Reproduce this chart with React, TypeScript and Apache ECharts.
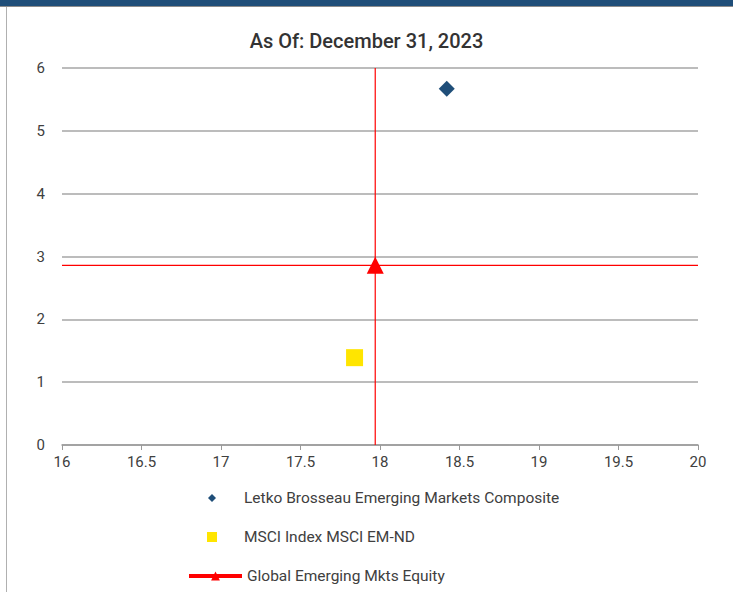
import React, { useEffect, useRef } from "react";
import * as echarts from "echarts";

const seriesNames = [
  "Letko Brosseau Emerging Markets Composite",
  "MSCI Index MSCI EM-ND",
  "Global Emerging Mkts Equity",
];
// [x, y] values
const letkoPoint = [18.42, 5.67];
const msciPoint = [17.84, 1.39];
const globalPoint = [17.97, 2.86];
const xTicks = { min: 16, max: 20, interval: 0.5 };
const yTicks = { min: 0, max: 6, interval: 1 };

const FONT = "Roboto";
const TXT = "#404040";
const RED = "#ff0000";

export default function App() {
  const ref = useRef<HTMLDivElement>(null);
  useEffect(() => {
    if (!ref.current) return;
    const chart = echarts.init(ref.current, null, { renderer: "svg" });
    const legendBase = {
      orient: "vertical",
      selectedMode: false,
      padding: 0,
      textStyle: { fontFamily: FONT, fontSize: 15.5, color: TXT },
    };
    const crossLine = (data: number[][]) => ({
      type: "line",
      symbol: "none",
      silent: true,
      lineStyle: { color: RED, width: 1.2 },
      data,
      z: 3,
    });
    chart.setOption({
      animation: false,
      backgroundColor: "#ffffff",
      title: {
        text: "As Of: December 31, 2023",
        left: "center",
        top: 26,
        textStyle: { fontFamily: FONT, fontSize: 20, fontWeight: 500, color: "#333333" },
      },
      graphic: [
        { type: "rect", shape: { x: 0, y: 0, width: 733, height: 6 }, style: { fill: "#1F4E79" } },
        { type: "rect", shape: { x: 0, y: 6, width: 733, height: 1 }, style: { fill: "#8c8c8c" } },
        { type: "rect", shape: { x: 6, y: 7, width: 1, height: 585 }, style: { fill: "#b0b0b0" } },
      ],
      grid: { left: 62, right: 35, top: 68, bottom: 147 },
      xAxis: {
        type: "value",
        min: xTicks.min,
        max: xTicks.max,
        interval: xTicks.interval,
        axisLine: { show: true, lineStyle: { color: "#9a9a9a", width: 1.5 } },
        axisTick: { show: true, length: 5, lineStyle: { color: "#9a9a9a" } },
        splitLine: { show: false },
        axisLabel: { fontFamily: FONT, fontSize: 15, color: TXT, margin: 9 },
      },
      yAxis: {
        type: "value",
        min: yTicks.min,
        max: yTicks.max,
        interval: yTicks.interval,
        axisLine: { show: false },
        axisTick: { show: false },
        splitLine: { show: true, lineStyle: { color: "#a6a6a6", width: 1.5 } },
        axisLabel: { fontFamily: FONT, fontSize: 15, color: TXT, margin: 17 },
      },
      legend: [
        {
          ...legendBase,
          left: 208,
          top: 490,
          itemWidth: 8,
          itemHeight: 8,
          textStyle: { ...legendBase.textStyle, padding: [0, 0, 0, 23] },
          data: [seriesNames[0]],
        },
        {
          ...legendBase,
          left: 207,
          top: 529,
          itemWidth: 10,
          itemHeight: 10,
          textStyle: { ...legendBase.textStyle, padding: [0, 0, 0, 22] },
          data: [seriesNames[1]],
        },
        {
          ...legendBase,
          left: 187,
          top: 568,
          itemWidth: 53,
          itemHeight: 11,
          data: [seriesNames[2]],
          lineStyle: { width: 4, color: RED },
        },
      ],
      series: [
        crossLine([
          [globalPoint[0], yTicks.min],
          [globalPoint[0], yTicks.max],
        ]),
        crossLine([
          [xTicks.min, globalPoint[1]],
          [xTicks.max, globalPoint[1]],
        ]),
        {
          name: seriesNames[0],
          type: "scatter",
          symbol: "diamond",
          symbolSize: 16,
          itemStyle: { color: "#1F4E79", opacity: 1 },
          data: [letkoPoint],
          z: 5,
        },
        {
          name: seriesNames[1],
          type: "scatter",
          symbol: "rect",
          symbolSize: 17,
          itemStyle: { color: "#FFE500", opacity: 1 },
          data: [msciPoint],
          z: 5,
        },
        {
          name: seriesNames[2],
          type: "line",
          symbol: "triangle",
          symbolSize: 17,
          showSymbol: true,
          itemStyle: { color: RED, opacity: 1 },
          lineStyle: { color: RED, width: 4 },
          data: [globalPoint],
          z: 5,
        },
      ],
    });
    return () => chart.dispose();
  }, []);
  return (
    <div
      ref={ref}
      style={{ position: "absolute", left: 0, top: 0, width: 733, height: 592 }}
    />
  );
}
